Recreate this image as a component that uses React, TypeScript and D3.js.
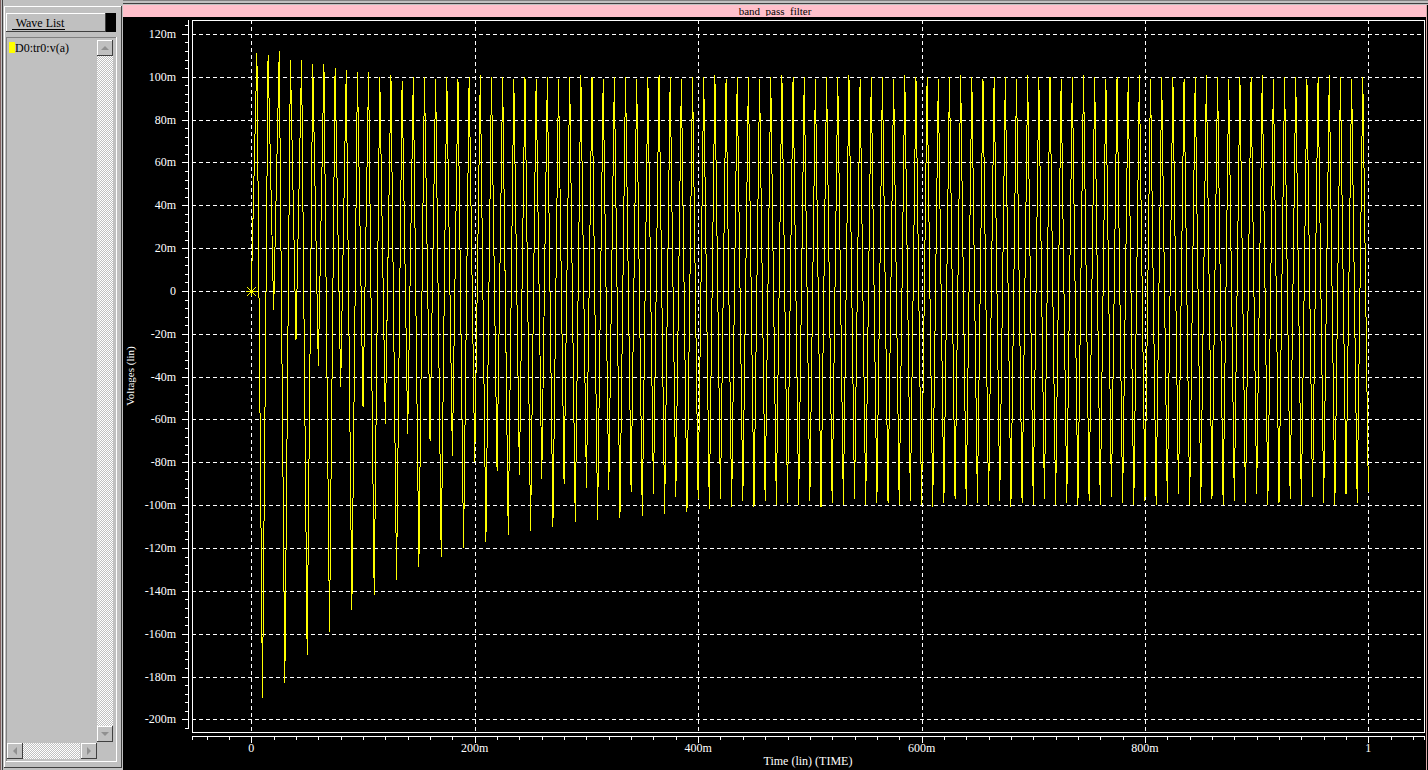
import React from "react";
import * as d3 from "d3";

// peak / trough voltage of each 10 ms cycle, in mV
const peakMv = [
  111, 110, 112, 108, 108, 106, 106, 104, 103, 102, 102, 100, 101, 98, 100,
  100, 99, 100, 99, 100, 101, 100, 100, 99, 100, 99, 100, 99, 100, 101,
  100, 99, 100, 100, 99, 100, 101, 100, 99, 100, 100, 101, 99, 100, 100,
  99, 100, 101, 100, 100, 99, 100, 100, 101, 99, 100, 100, 99, 101, 100,
  100, 99, 100, 101, 100, 99, 100, 100, 99, 101, 100, 100, 99, 100, 101,
  100, 99, 100, 100, 101, 99, 100, 100, 99, 100, 101, 100, 99, 100, 100,
  101, 99, 100, 100, 99, 100, 101, 100, 99, 100,
];
const troughMv = [
  -190, -9, -183, -23, -170, -35, -159, -45, -149, -54, -142, -62, -135, -67, -129, -70,
  -124, -77, -120, -80, -117, -84, -114, -86, -112, -88, -110, -90, -108, -92, -107, -93,
  -106, -94, -105, -95, -104, -96, -103, -97,
  -102, -97, -101, -98, -101, -98, -100, -99, -100, -98, -101, -99, -100, -97, -100, -99,
  -99, -100, -98, -100, -101, -99, -97, -100, -99, -100, -98, -101, -99, -100, -97, -100,
  -99, -100, -98, -100, -96, -99, -100, -98, -100, -99, -95, -100, -99, -97, -100, -98,
  -99, -95, -100, -99, -97, -100, -96, -99, -100, -95, -99, -94,
];
const cyclePeriod = 0.01; // seconds

const xMajor = [0, 0.2, 0.4, 0.6, 0.8, 1];
const xLabels = ["0", "200m", "400m", "600m", "800m", "1"];
const yMajor = [-200, -180, -160, -140, -120, -100, -80, -60, -40, -20, 0, 20, 40, 60, 80, 100, 120];
const yLabels = ["-200m", "-180m", "-160m", "-140m", "-120m", "-100m", "-80m", "-60m", "-40m", "-20m", "0", "20m", "40m", "60m", "80m", "100m", "120m"];

const title = "band_pass_filter";
const waveName = "D0:tr0:v(a)";

const FONT = "'Liberation Serif', 'DejaVu Serif', serif";

function Bevel({ x, y, w, h, raised = true, fill = "#c0c0c0" }) {
  const lt = raised ? "#ffffff" : "#808080";
  const rb = raised ? "#404040" : "#ffffff";
  return (
    <g shapeRendering="crispEdges">
      <rect x={x} y={y} width={w} height={h} fill={fill} />
      <path d={`M${x + 0.5},${y + h}V${y + 0.5}H${x + w}`} stroke={lt} fill="none" />
      <path d={`M${x},${y + h - 0.5}H${x + w - 0.5}V${y}`} stroke={rb} fill="none" />
    </g>
  );
}

function ArrowBtn({ x, y, dir }) {
  const cx = x + 8, cy = y + 8;
  let d = "";
  if (dir === "up") d = `M${cx - 4},${cy + 2}L${cx + 4},${cy + 2}L${cx},${cy - 2}Z`;
  if (dir === "down") d = `M${cx - 4},${cy - 2}L${cx + 4},${cy - 2}L${cx},${cy + 2}Z`;
  if (dir === "left") d = `M${cx + 2},${cy - 4}L${cx + 2},${cy + 4}L${cx - 2},${cy}Z`;
  if (dir === "right") d = `M${cx - 2},${cy - 4}L${cx - 2},${cy + 4}L${cx + 2},${cy}Z`;
  return (
    <g>
      <Bevel x={x} y={y} w={16} h={16} />
      <path d={d} fill="#909090" />
    </g>
  );
}

function WavePanel() {
  return (
    <g>
      <rect x={0} y={0} width={123} height={770} fill="#c0c0c0" />
      <line x1={0.5} y1={0} x2={0.5} y2={770} stroke="#806060" />
      <line x1={2.5} y1={0} x2={2.5} y2={770} stroke="#404040" />
      <Bevel x={4} y={6} w={118} h={762} />
      {/* Wave List button */}
      <Bevel x={6} y={13} w={100} h={19} />
      <rect x={106} y={13} width={10} height={19} fill="#000" />
      <text x={40} y={27} fontFamily={FONT} fontSize={12} textAnchor="middle" fill="#000">Wave List</text>
      <line x1={12} y1={29.5} x2={65} y2={29.5} stroke="#000" shapeRendering="crispEdges" />
      {/* list box */}
      <Bevel x={6} y={37} w={111} h={725} raised={false} />
      <rect x={9} y={42} width={6} height={11} fill="#ffff00" />
      <text x={15} y={52} fontFamily={FONT} fontSize={12} fill="#000">{waveName}</text>
      {/* vertical scrollbar */}
      <rect x={97} y={56} width={16} height={670} fill="url(#dither)" />
      <ArrowBtn x={97} y={40} dir="up" />
      <ArrowBtn x={97} y={726} dir="down" />
      {/* horizontal scrollbar */}
      <rect x={23} y={743} width={57} height={16} fill="url(#dither)" />
      <ArrowBtn x={7} y={743} dir="left" />
      <ArrowBtn x={81} y={743} dir="right" />
    </g>
  );
}

export default function App() {
  const W = 1428, H = 770;
  const plot = { left: 192, right: 1424, top: 20, bottom: 732 };

  const x = d3.scaleLinear().domain([-0.0531, 1.0498]).range([plot.left, plot.right]);
  const y = d3.scaleLinear().domain([-205.9, 126.5]).range([plot.bottom, plot.top]);

  const points: [number, number][] = [[0, 0]];
  peakMv.forEach((p, k) => {
    points.push([cyclePeriod * (k + 0.5), p]);
    points.push([cyclePeriod * (k + 1), troughMv[k]]);
  });
  const line = d3.line<[number, number]>().x((d) => x(d[0])).y((d) => y(d[1]));

  const xMinor = d3.range(-40, 1041, 20).map((v) => v / 1000);
  const yMinor = d3.range(-204, 125, 4);
  const axisY = 736.5;
  const axisX = 188.5;

  const x0 = Math.round(x(0)), y0 = Math.round(y(0));

  return (
    <svg width={W} height={H} style={{ position: "absolute", left: 0, top: 0, background: "#000" }}>
      <defs>
        <pattern id="dither" width={2} height={2} patternUnits="userSpaceOnUse">
          <rect width={2} height={2} fill="#c0c0c0" />
          <rect width={1} height={1} fill="#ffffff" />
          <rect x={1} y={1} width={1} height={1} fill="#ffffff" />
        </pattern>
        <clipPath id="titleClip">
          <rect x={123} y={5} width={1303} height={11} />
        </clipPath>
        <clipPath id="plotClip">
          <rect x={plot.left + 1} y={plot.top + 1} width={plot.right - plot.left - 1} height={plot.bottom - plot.top - 1} />
        </clipPath>
      </defs>

      {/* window top strip */}
      <rect x={0} y={0} width={W} height={5} fill="#c0c0c0" />
      <line x1={0} y1={0.5} x2={W} y2={0.5} stroke="#808080" />
      <line x1={0} y1={3.5} x2={W} y2={3.5} stroke="#404040" />

      {/* title bar */}
      <rect x={123} y={5} width={1303} height={12} fill="#ffc0cb" />
      <text x={775} y={15} fontFamily={FONT} fontSize={11} textAnchor="middle" fill="#000" clipPath="url(#titleClip)">{title}</text>

      <WavePanel />

      <line x1={1426.5} y1={5} x2={1426.5} y2={H} stroke="#d8a8a8" />

      {/* grid */}
      <g stroke="#ffffff" strokeDasharray="4,3" shapeRendering="crispEdges">
        {yMajor.map((v) => (
          <line key={"gy" + v} x1={plot.left} x2={plot.right} y1={Math.round(y(v)) + 0.5} y2={Math.round(y(v)) + 0.5} />
        ))}
        {xMajor.map((v) => (
          <line key={"gx" + v} y1={plot.top} y2={plot.bottom} x1={Math.round(x(v)) + 0.5} x2={Math.round(x(v)) + 0.5} />
        ))}
      </g>

      {/* frame */}
      <rect x={plot.left + 0.5} y={plot.top + 0.5} width={plot.right - plot.left} height={plot.bottom - plot.top} fill="none" stroke="#ffffff" shapeRendering="crispEdges" />

      {/* y axis */}
      <g stroke="#ffffff" shapeRendering="crispEdges">
        <line x1={axisX} x2={axisX} y1={plot.top} y2={729} />
        {yMinor.map((v) => (
          <line key={"ym" + v} x1={185} x2={axisX} y1={Math.round(y(v)) + 0.5} y2={Math.round(y(v)) + 0.5} />
        ))}
        {yMajor.map((v) => (
          <line key={"yM" + v} x1={182} x2={axisX} y1={Math.round(y(v)) + 0.5} y2={Math.round(y(v)) + 0.5} />
        ))}
      </g>
      <g fontFamily={FONT} fontSize={12} fill="#ffffff" textAnchor="end">
        {yMajor.map((v, i) => (
          <text key={"yl" + v} x={176} y={y(v) + 4}>{yLabels[i]}</text>
        ))}
      </g>
      <text transform={`translate(134,${(plot.top + plot.bottom) / 2}) rotate(-90)`} fontFamily={FONT} fontSize={11} fill="#ffffff" textAnchor="middle">Voltages (lin)</text>

      {/* x axis */}
      <g stroke="#ffffff" shapeRendering="crispEdges">
        <line x1={plot.left} x2={plot.right + 1} y1={axisY} y2={axisY} />
        {xMinor.map((v) => (
          <line key={"xm" + v} y1={axisY} y2={740} x1={Math.round(x(v)) + 0.5} x2={Math.round(x(v)) + 0.5} />
        ))}
        {xMajor.map((v) => (
          <line key={"xM" + v} y1={axisY} y2={743} x1={Math.round(x(v)) + 0.5} x2={Math.round(x(v)) + 0.5} />
        ))}
        <line y1={axisY} y2={740} x1={plot.left + 0.5} x2={plot.left + 0.5} />
        <line y1={axisY} y2={740} x1={plot.right + 0.5} x2={plot.right + 0.5} />
      </g>
      <g fontFamily={FONT} fontSize={12} fill="#ffffff" textAnchor="middle">
        {xMajor.map((v, i) => (
          <text key={"xl" + v} x={x(v)} y={752}>{xLabels[i]}</text>
        ))}
      </g>
      <text x={(plot.left + plot.right) / 2} y={765} fontFamily={FONT} fontSize={12} fill="#ffffff" textAnchor="middle">Time (lin) (TIME)</text>

      {/* trace */}
      <g clipPath="url(#plotClip)">
        <path d={line(points) ?? ""} fill="none" stroke="#ffff00" strokeWidth={1} shapeRendering="crispEdges" />
        <g stroke="#ffff00" shapeRendering="crispEdges">
          <line x1={x0 - 5} x2={x0 + 6} y1={y0 + 0.5} y2={y0 + 0.5} />
          <line x1={x0 + 0.5} x2={x0 + 0.5} y1={y0 - 4} y2={y0 + 5} />
          <line x1={x0 - 4} x2={x0 + 5} y1={y0 - 4} y2={y0 + 5} />
          <line x1={x0 - 4} x2={x0 + 5} y1={y0 + 5} y2={y0 - 4} />
        </g>
      </g>
    </svg>
  );
}
